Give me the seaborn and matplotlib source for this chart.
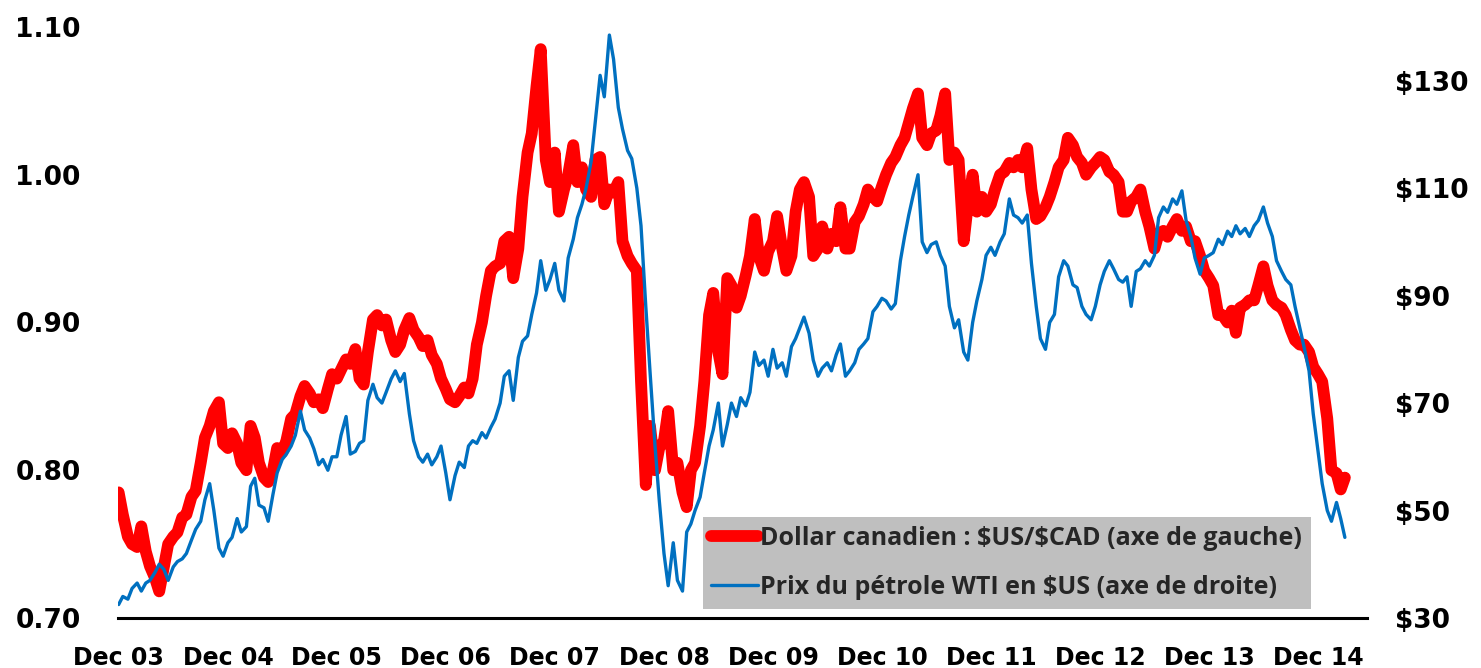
import matplotlib
matplotlib.use('Agg')
import pandas as pd
import matplotlib.pyplot as plt
import seaborn as sns

# semi-monthly readings (1st and 15th of each month), Dec 2003 -> Mar 2015
START = '2003-12-01'

# Canadian dollar, $US per $CAD (left axis)
CAD = [
    0.785, 0.770, 0.755, 0.750, 0.748, 0.762, 0.745, 0.735, 0.727, 0.718, 0.735, 0.750,
    0.755, 0.758, 0.768, 0.770, 0.782, 0.786, 0.805, 0.822, 0.830, 0.840, 0.846, 0.818,
    0.815, 0.825, 0.818, 0.805, 0.800, 0.830, 0.822, 0.805, 0.795, 0.792, 0.800, 0.815,
    0.812, 0.820, 0.835, 0.838, 0.850, 0.857, 0.852, 0.846, 0.848, 0.842, 0.855, 0.865,
    0.862, 0.868, 0.875, 0.872, 0.882, 0.862, 0.858, 0.880, 0.902, 0.905, 0.898, 0.902,
    0.888, 0.880, 0.885, 0.895, 0.903, 0.895, 0.890, 0.884, 0.888, 0.878, 0.872, 0.862,
    0.855, 0.848, 0.846, 0.850, 0.856, 0.852, 0.862, 0.885, 0.900, 0.918, 0.935, 0.938,
    0.940, 0.955, 0.958, 0.930, 0.950, 0.985, 1.015, 1.028, 1.060, 1.085, 1.010, 0.995,
    1.015, 0.975, 0.990, 1.000, 1.020, 0.995, 1.005, 0.990, 0.985, 1.010, 1.012, 0.980,
    0.990, 0.988, 0.995, 0.955, 0.945, 0.940, 0.935, 0.860, 0.790, 0.830, 0.800, 0.815,
    0.820, 0.840, 0.800, 0.805, 0.785, 0.775, 0.800, 0.805, 0.830, 0.860, 0.905, 0.920,
    0.880, 0.865, 0.930, 0.925, 0.910, 0.918, 0.932, 0.945, 0.970, 0.945, 0.935, 0.948,
    0.955, 0.972, 0.950, 0.935, 0.945, 0.975, 0.990, 0.995, 0.985, 0.945, 0.950, 0.965,
    0.950, 0.960, 0.955, 0.978, 0.950, 0.950, 0.968, 0.972, 0.980, 0.990, 0.985, 0.982,
    0.992, 1.000, 1.008, 1.012, 1.020, 1.025, 1.035, 1.045, 1.055, 1.025, 1.020, 1.028,
    1.030, 1.040, 1.055, 1.010, 1.015, 1.010, 0.955, 0.980, 1.000, 0.975, 0.985, 0.975,
    0.980, 0.990, 1.000, 1.002, 1.008, 1.005, 1.010, 1.005, 1.018, 0.990, 0.970, 0.972,
    0.978, 0.985, 0.995, 1.005, 1.010, 1.025, 1.020, 1.012, 1.008, 1.000, 1.005, 1.008,
    1.012, 1.010, 1.002, 1.000, 0.995, 0.975, 0.975, 0.982, 0.985, 0.990, 0.975, 0.965,
    0.950, 0.960, 0.962, 0.958, 0.965, 0.970, 0.962, 0.965, 0.955, 0.955, 0.945, 0.935,
    0.930, 0.925, 0.905, 0.905, 0.900, 0.908, 0.893, 0.910, 0.912, 0.915, 0.915, 0.925,
    0.938, 0.925, 0.915, 0.912, 0.910, 0.905, 0.895, 0.888, 0.885, 0.885, 0.880, 0.870,
    0.865, 0.860, 0.835, 0.800, 0.798, 0.787, 0.795,
]

# WTI crude, $US per barrel (right axis)
WTI = [
    32.5, 34.0, 33.5, 35.5, 36.5, 35.0, 36.5, 37.0, 38.5, 40.0, 39.0, 37.0,
    39.5, 40.5, 41.0, 42.0, 44.5, 46.5, 48.0, 52.0, 55.0, 50.0, 43.0, 41.5,
    44.0, 45.0, 48.5, 46.0, 47.0, 54.5, 56.0, 51.0, 50.5, 48.0, 53.0, 57.0,
    59.5, 60.5, 62.0, 64.0, 68.5, 65.0, 63.5, 61.5, 58.5, 59.5, 57.5, 60.0,
    60.0, 64.0, 67.5, 60.5, 61.0, 62.5, 63.0, 70.5, 73.5, 71.0, 70.0, 72.0,
    74.5, 76.0, 74.0, 75.5, 68.0, 63.0, 60.0, 59.0, 60.5, 58.5, 60.0, 62.0,
    57.0, 52.0, 56.5, 59.0, 58.0, 62.0, 63.0, 62.5, 64.5, 63.5, 65.5, 67.0,
    70.0, 75.0, 76.0, 70.5, 78.5, 81.5, 82.5, 86.5, 90.5, 96.5, 91.0, 93.0,
    96.0, 91.0, 89.0, 97.0, 100.5, 104.5, 107.0, 110.0, 115.0, 122.5, 131.0, 127.0,
    138.5, 134.0, 125.0, 121.0, 117.0, 115.5, 110.0, 103.0, 88.0, 76.0, 62.0, 52.0,
    42.0, 36.0, 44.0, 37.0, 35.0, 46.0, 47.5, 50.0, 52.5, 57.0, 62.0, 65.0,
    70.0, 62.0, 66.0, 70.0, 67.5, 71.0, 69.5, 72.0, 79.5, 77.0, 78.0, 75.0,
    80.0, 76.5, 77.5, 75.0, 80.5, 82.0, 84.0, 86.0, 83.0, 78.0, 75.0, 76.5,
    77.5, 76.0, 79.0, 81.0, 75.0, 76.0, 77.5, 80.0, 81.0, 82.0, 87.0, 88.0,
    89.5, 89.0, 87.5, 88.5, 96.5, 101.0, 105.0, 108.5, 112.5, 100.0, 98.0, 99.5,
    100.0, 97.5, 95.5, 88.0, 84.0, 85.5, 79.5, 78.0, 85.0, 89.0, 93.0, 97.5,
    99.0, 97.5, 100.0, 101.5, 108.0, 105.0, 104.5, 103.5, 105.0, 96.0, 88.0, 82.0,
    80.0, 85.0, 86.5, 93.5, 96.5, 95.5, 92.0, 91.5, 88.0, 86.5, 85.5, 88.0,
    92.0, 94.5, 96.5, 95.0, 93.0, 92.5, 93.5, 88.0, 94.5, 95.0, 96.5, 95.5,
    97.5, 104.5, 106.5, 105.5, 108.0, 107.0, 109.5, 104.0, 101.0, 97.0, 94.0, 97.0,
    97.5, 98.0, 100.5, 99.5, 102.0, 101.0, 103.0, 101.5, 102.5, 101.0, 103.0, 104.0,
    106.5, 103.5, 101.0, 96.5, 94.5, 93.0, 92.0, 88.0, 84.0, 80.5, 76.0, 68.0,
    61.0, 55.0, 50.0, 48.0, 51.5, 48.5, 45.0,
]

TICK_DATES = ['2003-12-01', '2004-12-01', '2005-12-01', '2006-12-01', '2007-12-01', '2008-12-01',
              '2009-12-01', '2010-12-01', '2011-12-01', '2012-12-01', '2013-12-01', '2014-12-01']
TICK_LABELS = ['Dec 03', 'Dec 04', 'Dec 05', 'Dec 06', 'Dec 07', 'Dec 08',
               'Dec 09', 'Dec 10', 'Dec 11', 'Dec 12', 'Dec 13', 'Dec 14']
LEFT_TICKS = [0.70, 0.80, 0.90, 1.00, 1.10]
RIGHT_TICKS = [30, 50, 70, 90, 110, 130]

# dollar signs escaped so matplotlib does not read them as mathtext
LABEL_CAD = 'Dollar canadien : \\$US/\\$CAD (axe de gauche)'
LABEL_WTI = 'Prix du pétrole WTI en \\$US (axe de droite)'

dates = pd.date_range(START, periods=len(CAD), freq='SMS')
df = pd.DataFrame({'date': dates, 'cad': CAD, 'wti': WTI})

sns.set_theme(style='white')
plt.rcParams['font.family'] = ['DejaVu Sans']

fig = plt.figure(figsize=(14.81, 6.68), dpi=100)
ax1 = fig.add_axes([0.0797, 0.0749, 0.8433, 0.8847])
ax2 = ax1.twinx()

sns.lineplot(data=df, x='date', y='cad', ax=ax1, color='#FF0000', linewidth=8.5,
             solid_joinstyle='round', solid_capstyle='round', legend=False)
sns.lineplot(data=df, x='date', y='wti', ax=ax2, color='#0070C0', linewidth=2.4,
             legend=False)

ax1.set_xlim(pd.Timestamp('2003-11-29'), pd.Timestamp('2015-05-14'))
ax1.set_ylim(0.70, 1.10)
ax2.set_ylim(30, 140)

ax1.set_xticks(pd.to_datetime(TICK_DATES))
ax1.set_xticklabels(TICK_LABELS, fontsize=17, fontweight='bold')
ax1.set_yticks(LEFT_TICKS)
ax1.set_yticklabels([f'{v:.2f}' for v in LEFT_TICKS], fontsize=19, fontweight='bold')
ax2.set_yticks(RIGHT_TICKS)
ax2.set_yticklabels([f'${v}' for v in RIGHT_TICKS], fontsize=19, fontweight='bold')

ax1.set_xlabel('')
ax1.set_ylabel('')
ax2.set_ylabel('')

ax1.tick_params(axis='x', length=0, pad=20, colors='black')
ax1.tick_params(axis='y', length=0, pad=27, colors='black')
ax2.tick_params(axis='y', length=0, pad=20, colors='black')

for side in ['top', 'left', 'right']:
    ax1.spines[side].set_visible(False)
for side in ['top', 'left', 'right', 'bottom']:
    ax2.spines[side].set_visible(False)
ax1.spines['bottom'].set_color('black')
ax1.spines['bottom'].set_linewidth(2.2)

handles = [ax1.lines[0], ax2.lines[0]]
leg = ax2.legend(handles, [LABEL_CAD, LABEL_WTI], loc='lower left',
                 bbox_to_anchor=(0.468, 0.016), borderaxespad=0,
                 prop={'family': 'Open Sans', 'weight': 'bold', 'size': 18},
                 handlelength=1.85, handletextpad=0.1, labelspacing=0.95,
                 borderpad=0.35, frameon=True, fancybox=False)
leg.get_frame().set_facecolor('#BFBFBF')
leg.get_frame().set_edgecolor('none')
leg.get_frame().set_alpha(1)

fig.savefig('out.png', dpi=100)
